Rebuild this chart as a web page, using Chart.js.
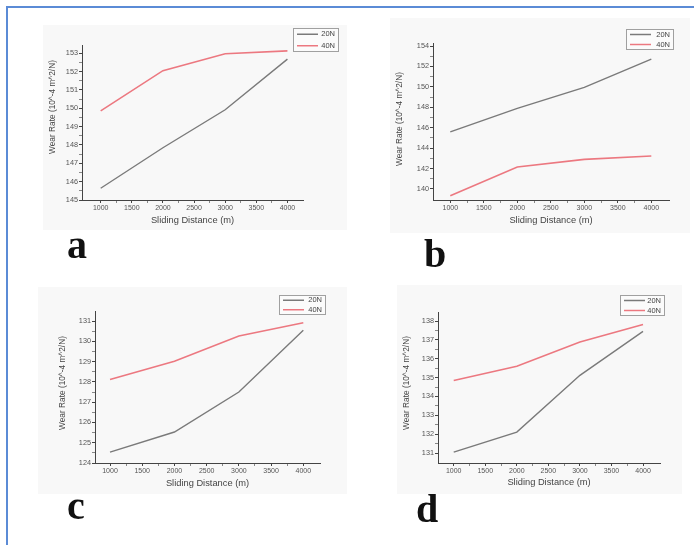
<!DOCTYPE html>
<html><head><meta charset="utf-8">
<script src="https://cdn.jsdelivr.net/npm/chart.js@4/dist/chart.umd.min.js"></script>
<style>
html,body{margin:0;padding:0;background:#fff;width:694px;height:545px;overflow:hidden;position:relative;font-family:"Liberation Sans",Arial,sans-serif}
.frameTop{position:absolute;left:6px;top:6px;width:688px;height:2px;background:#5b8bd6}
.frameLeft{position:absolute;left:6px;top:6px;width:2px;height:539px;background:#5b8bd6}
.bg{position:absolute;background:#f8f8f8}
canvas{position:absolute}
.lab{position:absolute;font-family:"Liberation Serif","Times New Roman",serif;font-weight:bold;font-size:40px;line-height:40px;color:#111}
</style></head><body>
<div class="frameTop"></div><div class="frameLeft"></div>
<div class="bg" style="left:43px;top:25px;width:304px;height:205px"></div>
<div class="bg" style="left:390px;top:18px;width:300px;height:215px"></div>
<div class="bg" style="left:38px;top:287px;width:309px;height:207px"></div>
<div class="bg" style="left:397px;top:285px;width:285px;height:209px"></div>
<canvas id="ca" width="307" height="215" style="left:40px;top:20px"></canvas>
<canvas id="cb" width="300" height="217" style="left:390px;top:18px"></canvas>
<canvas id="cc" width="309" height="207" style="left:38px;top:287px"></canvas>
<canvas id="cd" width="285" height="209" style="left:397px;top:285px"></canvas>
<div class="lab" style="left:67px;top:225px">a</div>
<div class="lab" style="left:424px;top:234px">b</div>
<div class="lab" style="left:67px;top:486px">c</div>
<div class="lab" style="left:416px;top:489px">d</div>
<script>
// ---- data ----
const distances = [1000, 2000, 3000, 4000];
const xTickLabels = [1000, 1500, 2000, 2500, 3000, 3500, 4000];
const seriesNames = ['20N', '40N'];
const xTitle = 'Sliding Distance (m)';
const yTitle = 'Wear Rate (10^-4 m^2/N)';

const a20N = [145.64, 147.85, 149.92, 152.68];
const a40N = [149.86, 152.05, 152.97, 153.13];
const aYTicks = [145, 146, 147, 148, 149, 150, 151, 152, 153];

const b20N = [145.6, 147.9, 149.96, 152.73];
const b40N = [139.34, 142.15, 142.9, 143.23];
const bYTicks = [140, 142, 144, 146, 148, 150, 152, 154];

const c20N = [124.54, 125.53, 127.5, 130.55];
const c40N = [128.12, 129.02, 130.27, 130.92];
const cYTicks = [124, 125, 126, 127, 128, 129, 130, 131];

const d20N = [131.05, 132.11, 135.12, 137.45];
const d40N = [134.85, 135.6, 136.89, 137.82];
const dYTicks = [131, 132, 133, 134, 135, 136, 137, 138];

// ---- styles / layout ----
const colors = ['#7a7a7a', '#ec7880'];

const boxLegend = {
  id: 'boxLegend',
  afterDraw(chart, args, o) {
    const ctx = chart.ctx;
    ctx.save();
    ctx.fillStyle = '#fbfbfb';
    ctx.fillRect(o.x, o.y, o.w, o.h);
    ctx.strokeStyle = '#a0a0a0';
    ctx.lineWidth = 1;
    ctx.strokeRect(o.x + 0.5, o.y + 0.5, o.w, o.h);
    chart.data.datasets.forEach((ds, i) => {
      const cy = o.y + o.h * (2 * i + 1) / 4 + 0.5;
      ctx.strokeStyle = ds.borderColor;
      ctx.lineWidth = 1.5;
      ctx.beginPath(); ctx.moveTo(o.x + 4, cy); ctx.lineTo(o.x + 25, cy); ctx.stroke();
      ctx.fillStyle = '#444';
      ctx.font = '7.5px "Liberation Sans", Arial';
      ctx.textBaseline = 'middle';
      ctx.textAlign = 'right';
      ctx.fillText(ds.label, o.x + o.w - 3, cy);
    });
    // rotated y-axis title
    ctx.save();
    ctx.translate(o.ytx, o.yty);
    ctx.rotate(-Math.PI / 2);
    ctx.fillStyle = '#444';
    ctx.font = '8.3px "Liberation Sans", Arial';
    ctx.textAlign = 'center';
    ctx.textBaseline = 'middle';
    ctx.fillText(o.ytext, 0, 0);
    ctx.restore();
    ctx.restore();
  }
};

function withMinor(arr) {
  const out = [];
  arr.forEach((v, i) => { out.push(v); if (i < arr.length - 1) out.push((v + arr[i + 1]) / 2); });
  return out;
}

function makeChart(id, s20, s40, yTicks, L) {
  const cv = document.getElementById(id);
  const cl = parseFloat(cv.style.left), ct = parseFloat(cv.style.top);
  const cw = cv.width, ch = cv.height;
  const yW = L.area[0] - cl, padTop = L.area[1] - ct, padRight = cl + cw - L.area[2], xH = ct + ch - L.area[3];
  const xTitleFont = 9.3;
  const xTitlePad = (ct + ch - L.xTitleY) - xTitleFont * 1.2 / 2;
  const xMajor = xTickLabels, xAll = withMinor(xMajor);
  const yAll = withMinor(yTicks);
  new Chart(cv, {
    type: 'line',
    data: {
      datasets: [
        { label: seriesNames[0], data: distances.map((x, i) => ({ x, y: s20[i] })), borderColor: colors[0], borderWidth: 1.4 },
        { label: seriesNames[1], data: distances.map((x, i) => ({ x, y: s40[i] })), borderColor: colors[1], borderWidth: 1.6 }
      ]
    },
    options: {
      responsive: false, animation: false, devicePixelRatio: 1,
      layout: { padding: { left: 0, top: padTop, right: padRight, bottom: 0 } },
      elements: { point: { radius: 0 }, line: { tension: 0 } },
      plugins: { legend: { display: false }, tooltip: { enabled: false },
        boxLegend: { x: L.legend[0] - cl, y: L.legend[1] - ct, w: L.legend[2] - L.legend[0], h: L.legend[3] - L.legend[1],
          ytx: L.yTitle[0] - cl, yty: L.yTitle[1] - ct, ytext: yTitle } },
      scales: {
        x: {
          type: 'linear', min: L.xr[0], max: L.xr[1],
          afterBuildTicks: sc => { sc.ticks = xAll.map(v => ({ value: v })); },
          afterFit: sc => { sc.height = xH; },
          ticks: { autoSkip: false, maxRotation: 0, font: { size: 7, family: 'Liberation Sans' }, color: '#555', padding: 1,
            callback: v => xMajor.includes(v) ? String(v) : '' },
          grid: { drawOnChartArea: false, tickLength: 3, tickColor: c => xMajor.includes(c.tick && c.tick.value) ? '#444' : '#888' },
          border: { color: '#444', width: 1 },
          title: { display: true, text: xTitle, font: { size: xTitleFont, family: 'Liberation Sans' }, color: '#444', padding: { top: 0, bottom: xTitlePad } }
        },
        y: {
          min: L.yr[0], max: L.yr[1],
          afterBuildTicks: sc => { sc.ticks = yAll.map(v => ({ value: v })); },
          afterFit: sc => { sc.width = yW; },
          ticks: { autoSkip: false, font: { size: 7.3, family: 'Liberation Sans' }, color: '#555', padding: 1,
            callback: v => yTicks.includes(v) ? String(v) : '' },
          grid: { drawOnChartArea: false, tickLength: 3, tickColor: c => yTicks.includes(c.tick && c.tick.value) ? '#444' : '#888' },
          border: { color: '#444', width: 1 },
          title: { display: false }
        }
      }
    },
    plugins: [boxLegend]
  });
}

makeChart('ca', a20N, a40N, aYTicks, { area: [82, 45, 303, 200], xr: [700, 4250], yr: [145, 153.45], yTitle: [53, 107], xTitleY: 220, legend: [293, 28, 338, 51] });
makeChart('cb', b20N, b40N, bYTicks, { area: [433, 43, 669, 200], xr: [742, 4264], yr: [138.92, 154.3], yTitle: [400, 119], xTitleY: 220, legend: [626, 29, 673, 49] });
makeChart('cc', c20N, c40N, cYTicks, { area: [95, 311, 320, 463], xr: [767, 4259], yr: [124, 131.5], yTitle: [63, 383], xTitleY: 483, legend: [279, 295, 325, 314] });
makeChart('cd', d20N, d40N, dYTicks, { area: [438, 312, 660, 463], xr: [751, 4269], yr: [130.47, 138.48], yTitle: [407, 383], xTitleY: 482, legend: [620, 295, 664, 315] });
</script>
</body></html>
